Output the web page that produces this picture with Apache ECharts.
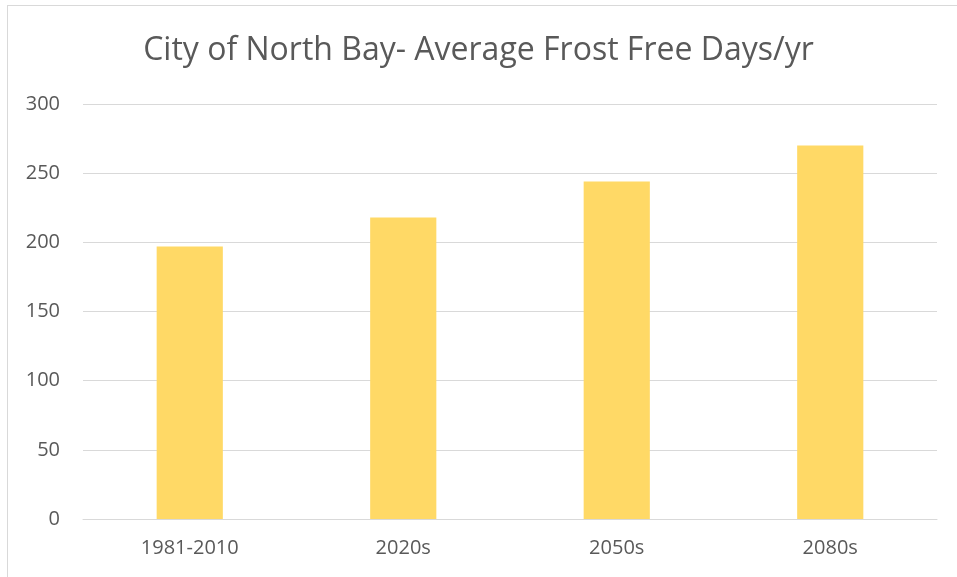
<!DOCTYPE html>
<html>
<head>
<meta charset="utf-8">
<script src="https://cdn.jsdelivr.net/npm/echarts@6/dist/echarts.min.js"></script>
<style>
  html, body { margin: 0; padding: 0; background: #fff; }
  #frame {
    position: absolute; left: 7px; top: 5px; width: 960px; height: 590px;
    border: 1px solid #d9d9d9; box-sizing: border-box;
  }
  #chart { position: absolute; left: 0; top: 0; width: 957px; height: 577px; }
</style>
</head>
<body>
<div id="frame"></div>
<div id="chart"></div>
<script>
// data
const periods = ['1981-2010', '2020s', '2050s', '2080s'];
const frostFreeDays = [197, 218, 244, 270];

const chart = echarts.init(document.getElementById('chart'));
chart.setOption({
  animation: false,
  title: {
    text: 'City of North Bay- Average Frost Free Days/yr',
    left: 'center',
    top: 30,
    textStyle: { fontFamily: 'Open Sans', fontSize: 32, fontWeight: 'normal', color: '#595959' }
  },
  grid: { left: 83, right: 20, top: 104, bottom: 58, containLabel: false },
  xAxis: {
    type: 'category',
    data: periods,
    axisLine: { lineStyle: { color: '#d9d9d9', width: 1 } },
    axisTick: { show: false },
    axisLabel: { color: '#595959', fontFamily: 'Open Sans', fontSize: 20, margin: 19 }
  },
  yAxis: {
    type: 'value',
    min: 0, max: 300, interval: 50,
    axisLine: { show: false },
    axisTick: { show: false },
    splitLine: { lineStyle: { color: '#d9d9d9', width: 1 } },
    axisLabel: { color: '#595959', fontFamily: 'Open Sans', fontSize: 20, margin: 23 }
  },
  series: [{
    type: 'bar',
    data: frostFreeDays,
    barWidth: '31%',
    itemStyle: { color: '#FFD966' }
  }]
});
</script>
</body>
</html>
